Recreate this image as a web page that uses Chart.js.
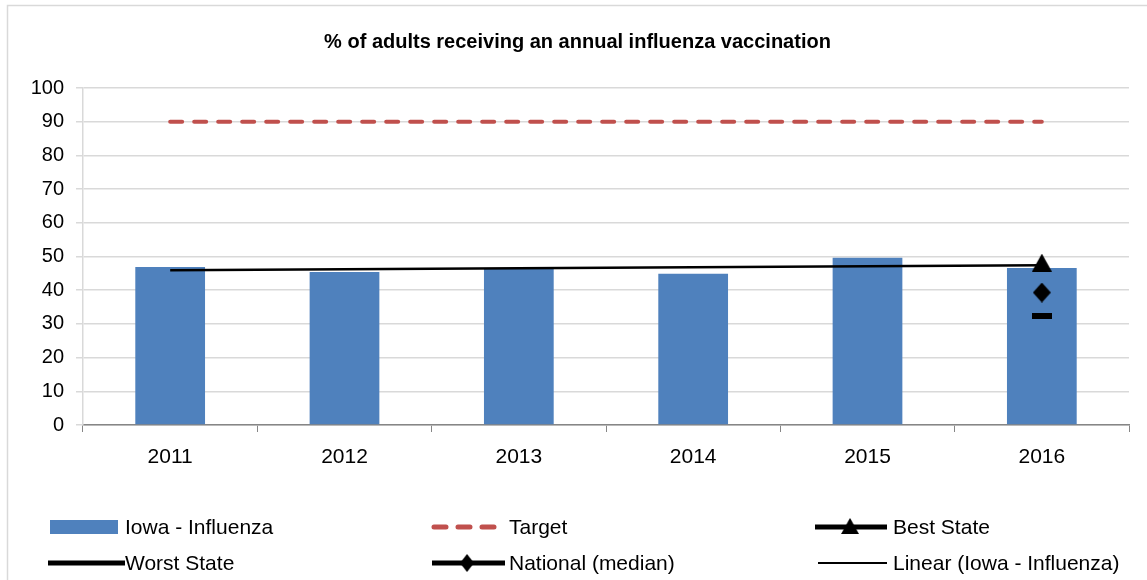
<!DOCTYPE html>
<html>
<head>
<meta charset="utf-8">
<script src="https://cdn.jsdelivr.net/npm/chart.js@4"></script>
<style>
  html, body { margin: 0; padding: 0; background: #fff; }
  #wrap { width: 1147px; height: 580px; }
</style>
</head>
<body>
<div id="wrap"><canvas id="chart" width="1147" height="580"></canvas></div>
<script>
const years = ['2011', '2012', '2013', '2014', '2015', '2016'];
const iowaInfluenza = [46.9, 45.4, 46.3, 44.9, 49.6, 46.6];
const target = [90, 90, 90, 90, 90, 90];
const bestState = [null, null, null, null, null, 48.2];
const worstState = [null, null, null, null, null, 32.2];
const nationalMedian = [null, null, null, null, null, 39.3];
const iowaTrend = [45.9, null, null, null, null, 47.4];
const yTicks = [0, 10, 20, 30, 40, 50, 60, 70, 80, 90, 100];

const BLUE = '#4F81BD';
const RED = '#C0504D';
const FONT = "'Liberation Sans', Arial, sans-serif";

// marker images, centred on their bounding box like Excel does
function makeMarker(w, h, draw) {
  const c = document.createElement('canvas');
  c.width = w; c.height = h;
  const g = c.getContext('2d');
  g.fillStyle = '#000';
  draw(g, w, h);
  return c;
}
const triangleMarker = makeMarker(20, 18, (g, w, h) => {
  g.beginPath(); g.moveTo(w / 2, 0); g.lineTo(w, h); g.lineTo(0, h); g.closePath(); g.fill();
});
const diamondMarker = makeMarker(18, 20, (g, w, h) => {
  g.beginPath(); g.moveTo(w / 2, 0); g.lineTo(w, h / 2); g.lineTo(w / 2, h); g.lineTo(0, h / 2); g.closePath(); g.fill();
});
const dashMarker = makeMarker(20, 6, (g, w, h) => { g.fillRect(0, 0, w, h); });

const frame = {
  id: 'frame',
  beforeDraw(chart) {
    const ctx = chart.ctx;
    ctx.save();
    ctx.fillStyle = '#fff';
    ctx.fillRect(0, 0, chart.width, chart.height);
    ctx.strokeStyle = '#D9D9D9';
    ctx.lineWidth = 1.5;
    ctx.strokeRect(7.5, 5.5, chart.width + 20, chart.height + 20);
    ctx.restore();
  }
};

// three-column legend below the plot
const bottomLegend = {
  id: 'bottomLegend',
  afterDraw(chart) {
    const ctx = chart.ctx;
    const cols = [{ sx: 50, tx: 125 }, { sx: 432, tx: 509 }, { sx: 815, tx: 893 }];
    const rows = [527, 563];
    const sw = 70;
    const line = (x1, x2, y, w, dash) => {
      ctx.save();
      ctx.strokeStyle = dash ? RED : '#000';
      ctx.lineWidth = w;
      ctx.lineCap = dash ? 'round' : 'butt';
      if (dash) ctx.setLineDash([12, 12]);
      ctx.beginPath(); ctx.moveTo(x1, y); ctx.lineTo(x2, y); ctx.stroke();
      ctx.restore();
    };
    const swatches = [
      (x, y) => { ctx.fillStyle = BLUE; ctx.fillRect(x, y - 7, sw - 2, 14); },
      (x, y) => line(x + 2, x + sw - 2, y, 5, true),
      (x, y) => { line(x, x + sw + 2, y, 5); ctx.drawImage(triangleMarker, x + sw / 2 - 9, y - 9, 18, 16); },
      (x, y) => line(x - 2, x + sw + 5, y, 5),
      (x, y) => { line(x, x + sw + 3, y, 5); ctx.drawImage(diamondMarker, x + sw / 2 - 7, y - 9, 14, 18); },
      (x, y) => line(x + 3, x + sw + 2, y, 2)
    ];
    ctx.save();
    ctx.font = '21px ' + FONT;
    ctx.textBaseline = 'middle';
    chart.data.datasets.forEach((ds, i) => {
      const c = cols[i % 3], y = rows[Math.floor(i / 3)];
      swatches[i](c.sx, y);
      ctx.fillStyle = '#000';
      ctx.fillText(ds.label, c.tx, y + 1);
    });
    ctx.restore();
  }
};

const markerLine = (label, data, img) => ({
  type: 'line', label, data, order: 1,
  borderColor: '#000', backgroundColor: '#000', borderWidth: 5,
  pointStyle: img, pointRadius: 10, showLine: false
});

new Chart(document.getElementById('chart').getContext('2d'), {
  type: 'bar',
  data: {
    labels: years,
    datasets: [
      {
        label: 'Iowa - Influenza', data: iowaInfluenza, order: 10,
        backgroundColor: BLUE, barPercentage: 0.4, categoryPercentage: 1
      },
      {
        type: 'line', label: 'Target', data: target, order: 2,
        borderColor: RED, borderWidth: 4, borderDash: [12, 12], borderCapStyle: 'round',
        pointRadius: 0, fill: false
      },
      markerLine('Best State', bestState, triangleMarker),
      markerLine('Worst State', worstState, dashMarker),
      markerLine('National (median)', nationalMedian, diamondMarker),
      {
        type: 'line', label: 'Linear (Iowa - Influenza)', data: iowaTrend, order: 3,
        borderColor: '#000', borderWidth: 2.5, pointRadius: 0, spanGaps: true, fill: false
      }
    ]
  },
  options: {
    responsive: false,
    animation: false,
    layout: { padding: { left: 26, right: 18, top: 0, bottom: 80 } },
    scales: {
      x: {
        grid: { drawOnChartArea: false, drawTicks: true, tickLength: 7, color: '#868686', lineWidth: 1 },
        border: { color: '#868686', width: 1.5 },
        ticks: { color: '#000', font: { family: FONT, size: 21 }, padding: 13 },
        afterFit: s => { s.height = 75; }
      },
      y: {
        min: 0, max: 100,
        afterBuildTicks: s => { s.ticks = yTicks.map(v => ({ value: v })); },
        grid: { color: '#D9D9D9', lineWidth: 1.5, tickLength: 7 },
        border: { color: '#D9D9D9', width: 1.5 },
        ticks: { color: '#000', font: { family: FONT, size: 20 }, padding: 12 },
        afterFit: s => { s.width = 57; }
      }
    },
    plugins: {
      legend: { display: false },
      tooltip: { enabled: false },
      title: {
        display: true,
        text: '% of adults receiving an annual influenza vaccination',
        color: '#000',
        font: { family: FONT, size: 20, weight: 'bold', lineHeight: 1.2 },
        padding: { top: 30, bottom: 34 }
      }
    }
  },
  plugins: [frame, bottomLegend]
});
</script>
</body>
</html>
